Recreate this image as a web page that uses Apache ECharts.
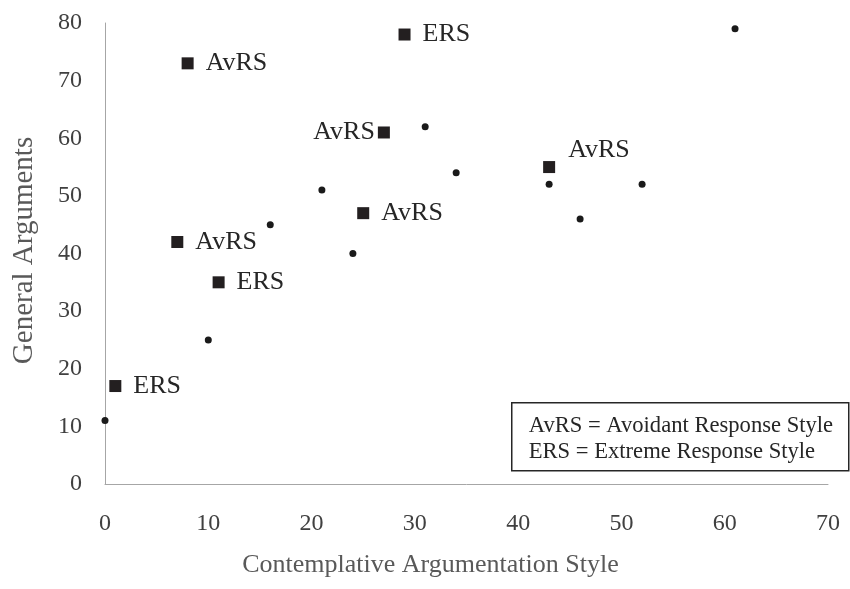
<!DOCTYPE html>
<html>
<head>
<meta charset="utf-8">
<script src="https://cdn.jsdelivr.net/npm/echarts@6/dist/echarts.min.js"></script>
<style>
  html, body { margin: 0; padding: 0; background: #fff; }
  #main { width: 850px; height: 589px; }
</style>
</head>
<body>
<div id="main"></div>
<script>
// plain participants (dots)
const dotX = [0, 10, 16, 21, 24, 31, 34, 43, 46, 52, 61];
const dotY = [11, 25, 45, 51, 40, 62, 54, 52, 46, 52, 79];

// participants with a response style (squares)
const sqX = [1, 8, 29, 27, 43, 25, 7, 11];
const sqY = [17, 73, 78, 61, 55, 47, 42, 35];
const sqLabel = ['ERS', 'AvRS', 'ERS', 'AvRS', 'AvRS', 'AvRS', 'AvRS', 'ERS'];

const xTitle = 'Contemplative Argumentation Style';
const yTitle = 'General Arguments';
const noteLines = ['AvRS = Avoidant Response Style', 'ERS = Extreme Response Style'];

const FONT = '"Liberation Serif", "Times New Roman", serif';

// where each square's label sits
const labelPlace = {
  3: { position: 'left', distance: 3 },
  4: { position: 'right', offset: [8, -17] }
};

const chart = echarts.init(document.getElementById('main'));

const squares = sqX.map((x, i) => {
  const place = labelPlace[i] || { position: 'right', distance: 12 };
  return {
    value: [x, sqY[i]],
    label: Object.assign({ show: true, formatter: sqLabel[i] }, place)
  };
});

chart.setOption({
  animation: false,
  backgroundColor: '#fff',
  grid: { left: 105, right: 22, top: 23, bottom: 105, containLabel: false },
  xAxis: {
    type: 'value',
    min: 0, max: 70, interval: 10,
    name: xTitle,
    nameLocation: 'middle',
    nameGap: 68,
    nameTextStyle: { fontFamily: FONT, fontSize: 26, color: '#595959', padding: [0, 72, 0, 0] },
    axisLine: { show: true, lineStyle: { color: '#a6a6a6', width: 1 } },
    axisTick: { show: false },
    splitLine: { show: false },
    axisLabel: { fontFamily: FONT, fontSize: 24, color: '#404040', margin: 28 }
  },
  yAxis: {
    type: 'value',
    min: 0, max: 80, interval: 10,
    name: yTitle,
    nameLocation: 'middle',
    nameGap: 66,
    nameTextStyle: { fontFamily: FONT, fontSize: 29, color: '#595959', padding: [0, 0, 0, 6] },
    axisLine: { show: true, lineStyle: { color: '#a6a6a6', width: 1 } },
    axisTick: { show: false },
    splitLine: { show: false },
    axisLabel: { fontFamily: FONT, fontSize: 24, color: '#404040', margin: 23 }
  },
  series: [
    {
      type: 'scatter',
      symbol: 'circle',
      symbolSize: 7,
      itemStyle: { color: '#1a1a1a', opacity: 1 },
      data: dotX.map((x, i) => [x, dotY[i]])
    },
    {
      type: 'scatter',
      symbol: 'rect',
      symbolSize: 12,
      itemStyle: { color: '#231f20', opacity: 1 },
      label: { fontFamily: FONT, fontSize: 26, color: '#262626' },
      data: squares
    }
  ],
  graphic: [{
    type: 'group',
    left: 511,
    top: 402,
    children: [
      {
        type: 'rect',
        shape: { x: 0, y: 0, width: 337, height: 68 },
        style: { fill: '#fff', stroke: '#262626', lineWidth: 1.5 }
      },
      {
        type: 'text',
        x: 17, y: 23,
        style: { text: noteLines[0], font: '22.6px ' + FONT, fill: '#262626', verticalAlign: 'middle' }
      },
      {
        type: 'text',
        x: 17, y: 49,
        style: { text: noteLines[1], font: '22.6px ' + FONT, fill: '#262626', verticalAlign: 'middle' }
      }
    ]
  }]
});
</script>
</body>
</html>
